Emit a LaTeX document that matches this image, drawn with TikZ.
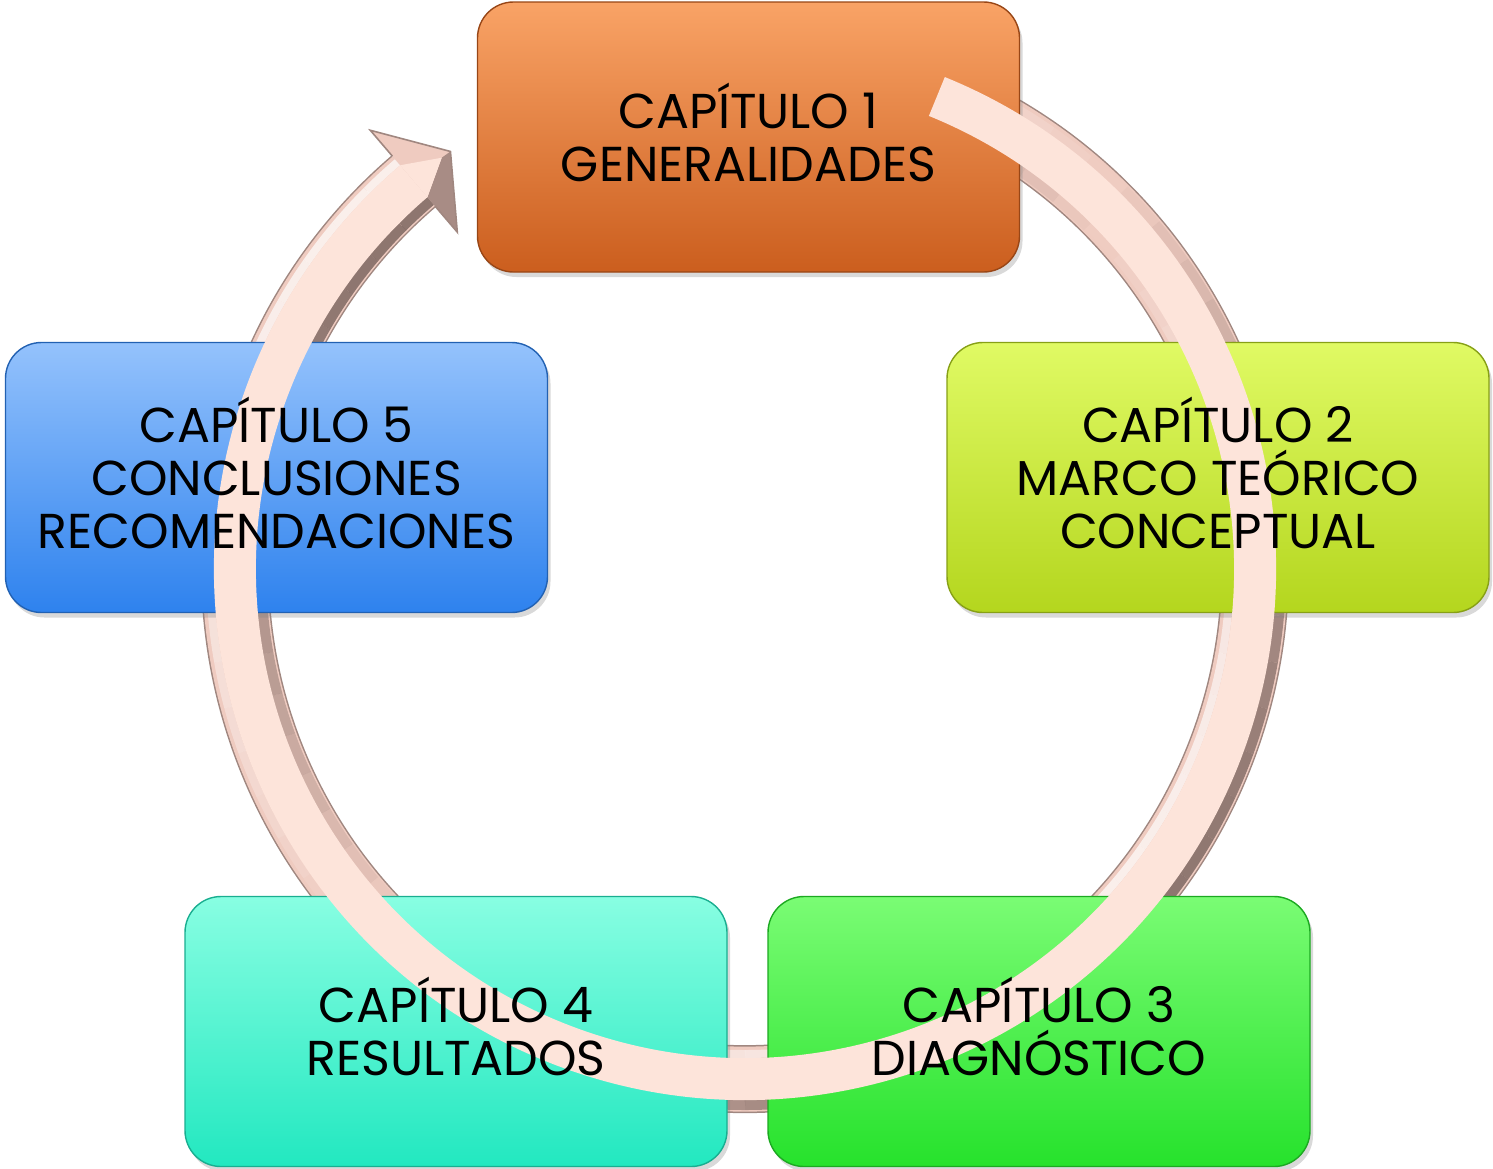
\documentclass[tikz,border=0pt]{standalone}
\usepackage{fontspec}
\setmainfont{Poppins}
\usetikzlibrary{shadows}
% box colours
\definecolor{genTop}{HTML}{F9A366}
\definecolor{genBot}{HTML}{CB5E1E}
\definecolor{marTop}{HTML}{E0FA64}
\definecolor{marBot}{HTML}{B4D61E}
\definecolor{diaTop}{HTML}{7AFC74}
\definecolor{diaBot}{HTML}{26E22C}
\definecolor{resTop}{HTML}{88FEE2}
\definecolor{resBot}{HTML}{22E8C0}
\definecolor{conTop}{HTML}{94C2FC}
\definecolor{conBot}{HTML}{2E82EE}
% ring colours
\definecolor{ringface}{HTML}{FDE4DA}
\definecolor{ringside}{HTML}{EFCBC0}
\definecolor{ringedge}{HTML}{A08780}
\definecolor{ringdark}{HTML}{6E5A55}
\tikzset{
  chapbox/.style 2 args={rectangle, rounded corners=18pt,
    minimum width=271pt, minimum height=135pt, inner sep=0pt,
    top color=#1, bottom color=#2, draw=#2!75!black, line width=0.7pt,
    drop shadow={opacity=0.3, shadow xshift=1.5pt, shadow yshift=-2.5pt}},
  chaptext/.style={align=center, text=black, yshift=2.5pt,
    font=\fontsize{24.5}{26.5}\selectfont},
  ringpos/.style={shift={(745,569)}, yscale=-1},
}
\begin{document}
\begin{tikzpicture}[x=0.5pt, y=-0.5pt]
    \useasboundingbox (0,0) rectangle (1493,1168);
    % ring band behind the boxes
    \begin{scope}[ringpos]
        \draw[ringedge, line width=34pt] (67.9:510) arc[start angle=67.9, end angle=-229.5, radius=510];
        \draw[ringside, line width=32.5pt] (67.9:510) arc[start angle=67.9, end angle=-229.5, radius=510];
        % bevel: shadow on the lower right, light on the upper left
        \foreach \a in {-230,-225,...,65} {
            \pgfmathsetmacro\dk{max(0,cos(\a+47.5))}
            \pgfmathsetmacro\lt{max(0,-cos(\a+47.5))}
            \draw[ringdark, line width=6pt, opacity=0.75*\dk] (\a:535) arc[start angle=\a, end angle=\a+5, radius=535];
            \draw[ringdark, line width=6pt, opacity=0.75*\lt] (\a:485) arc[start angle=\a, end angle=\a+5, radius=485];
            \draw[white, line width=4pt, opacity=0.7*\lt] (\a:535) arc[start angle=\a, end angle=\a+5, radius=535];
            \draw[white, line width=4pt, opacity=0.7*\dk] (\a:485) arc[start angle=\a, end angle=\a+5, radius=485];
        }
        % arrow head
        \coordinate (hTip) at (125.2:511);
        \coordinate (hOut) at (130.5:577);
        \coordinate (hIn)  at (130.5:443);
        \coordinate (nOut) at (130.5:543);
        \coordinate (nIn)  at (130.5:477);
        \fill[ringside] (nOut) -- (hOut) -- (hTip) -- (hIn) -- (nIn) -- cycle;
        \fill[ringdark, opacity=0.55] (hTip) -- (hIn) -- (nIn) -- (130.5:489) -- (126.4:511) -- cycle;
        \fill[ringface] (130.5:531) -- (126.4:511) -- (130.5:489) -- cycle;
        \draw[ringedge, line width=0.8pt, line join=miter] (nOut) -- (hOut) -- (hTip) -- (hIn) -- (nIn);
    \end{scope}
    % chapter boxes
    \node[chapbox={genTop}{genBot}] (b1) at (748.5,137)  {};
    \node[chapbox={marTop}{marBot}] (b2) at (1218,477.5) {};
    \node[chapbox={diaTop}{diaBot}] (b3) at (1039,1031.5) {};
    \node[chapbox={resTop}{resBot}] (b4) at (456,1031.5) {};
    \node[chapbox={conTop}{conBot}] (b5) at (276.5,477.5) {};
    % flat face of the ring, over the boxes
    \begin{scope}[ringpos]
        \draw[ringface, line width=21pt] (67.9:510) arc[start angle=67.9, end angle=-229.5, radius=510];
    \end{scope}
    % chapter texts
    \node[chaptext] (t1) at (b1) {CAPÍTULO 1\\GENERALIDADES};
    \node[chaptext] (t2) at (b2) {CAPÍTULO 2\\MARCO TEÓRICO\\CONCEPTUAL};
    \node[chaptext] (t3) at (b3) {CAPÍTULO 3\\DIAGNÓSTICO};
    \node[chaptext] (t4) at (b4) {CAPÍTULO 4\\RESULTADOS};
    \node[chaptext] (t5) at (b5) {CAPÍTULO 5\\CONCLUSIONES\\RECOMENDACIONES};
\end{tikzpicture}
\end{document}
